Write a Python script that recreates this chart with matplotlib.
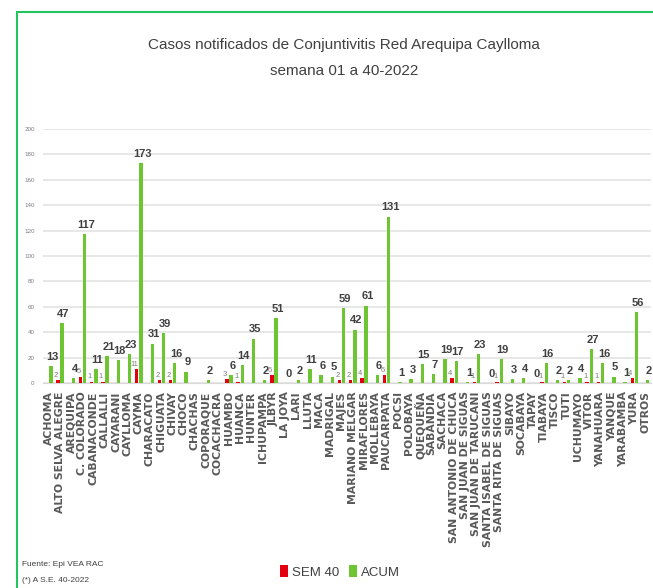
import matplotlib
matplotlib.use("Agg")
import matplotlib.pyplot as plt
import numpy as np
from matplotlib.patches import Rectangle

categories = ["ACHOMA", "ALTO SELVA ALEGRE", "AREQUIPA", "C. COLORADO", "CABANACONDE",
              "CALLALLI", "CAYARANI", "CAYLLOMA", "CAYMA", "CHARACATO", "CHIGUATA",
              "CHIVAY", "CHOCO", "CHACHAS", "COPORAQUE", "COCACHACRA", "HUAMBO", "HUANCA",
              "HUNTER", "ICHUPAMPA", "JLBYR", "LA JOYA", "LARI", "LLUTA", "MACA",
              "MADRIGAL", "MAJES", "MARIANO MELGAR", "MIRAFLORES", "MOLLEBAYA",
              "PAUCARPATA", "POCSI", "POLOBAYA", "QUEQUEÑA", "SABANDIA", "SACHACA",
              "SAN ANTONIO DE CHUCA", "SAN JUAN DE SIGUAS", "SAN JUAN DE TARUCANI",
              "SANTA ISABEL DE SIGUAS", "SANTA RITA DE SIGUAS", "SIBAYO", "SOCABAYA",
              "TAPAY", "TIABAYA", "TISCO", "TUTI", "UCHUMAYO", "VITOR", "YANAHUARA",
              "YANQUE", "YARABAMBA", "YURA", "OTROS"]

sem40 = [None, 2, None, 5, 1, 1, None, None, 11, None, 2, 2, None, None, None, None,
         3, 1, None, None, 6, None, None, None, None, None, 2, 2, 4, None, 6, None,
         None, None, None, None, 4, None, 1, None, 1, None, None, None, 1, None, 1,
         None, 1, 1, None, None, 4, None]

acum = [13, 47, 4, 117, 11, 21, 18, 23, 173, 31, 39, 16, 9, None, 2, None, 6, 14, 35,
        2, 51, 0, 2, 11, 6, 5, 59, 42, 61, 6, 131, 1, 3, 15, 7, 19, 17, 1, 23, 0, 19,
        3, 4, 0, 16, 2, 2, 4, 27, 16, 5, 1, 56, 2]

yticks = list(range(0, 201, 20))

W, H = 653, 588
fig = plt.figure(figsize=(W / 100, H / 100), dpi=100)
narrow = ["Liberation Sans Narrow", "Liberation Sans", "DejaVu Sans"]

ax = fig.add_axes([43 / W, 1 - 383 / H, (651 - 43) / W, (383 - 129) / H])
n = len(categories)
x = np.arange(n)
bw = 0.3
red = "#E3000F"
green = "#6CC531"

sem_vals = [v if v is not None else 0 for v in sem40]
acum_vals = [v if v is not None else 0 for v in acum]
b1 = ax.bar(x - 0.17, sem_vals, width=bw, color=red, label="SEM 40", zorder=3)
b2 = ax.bar(x + 0.2, acum_vals, width=bw, color=green, label="ACUM", zorder=3)

for i in range(n):
    if sem40[i] is not None:
        ax.annotate(str(sem40[i]), (x[i] - 0.22, sem40[i]), xytext=(-1, 1),
                    textcoords="offset points", ha="center", va="bottom",
                    fontsize=5.5, color="#7F7F7F", family=narrow)
    if acum[i] is not None:
        ax.annotate(str(acum[i]), (x[i] + 0.2, acum[i]), xytext=(1, 3),
                    textcoords="offset points", ha="center", va="bottom",
                    fontsize=8, fontweight="bold", color="#404040", family=narrow)

ax.set_xlim(-0.5, n - 0.5)
ax.set_ylim(0, 200)
ax.set_yticks(yticks)
ax.set_yticklabels([str(t) for t in yticks], fontsize=4.5, color="#7F7F7F", family=narrow)
ax.yaxis.grid(True, color="#E3E3E3", linewidth=1.2, zorder=0)
ax.set_axisbelow(True)
ax.tick_params(axis="both", length=0, pad=6)
for s in ["top", "right", "left"]:
    ax.spines[s].set_visible(False)
ax.spines["bottom"].set_color("#D9D9D9")
ax.set_xticks(x)
ax.set_xticklabels(categories, rotation=90, fontsize=7.8, fontweight="bold",
                   color="#595959", family="DejaVu Sans")
ax.tick_params(axis="x", pad=6)

fig.text(0.527, 1 - 45 / H, "Casos notificados de Conjuntivitis Red Arequipa Caylloma",
         ha="center", va="center", fontsize=11, color="#404040", family=narrow)
fig.text(0.527, 1 - 71 / H, "semana 01 a 40-2022",
         ha="center", va="center", fontsize=11, color="#404040", family=narrow)

fig.legend(handles=[b1, b2], labels=["SEM 40", "ACUM"], loc="center",
           bbox_to_anchor=(340 / W, 1 - 572 / H), ncol=2, frameon=False,
           handlelength=0.55, handleheight=1.0, handletextpad=0.3, columnspacing=0.8,
           prop={"family": narrow, "size": 9.5}, labelcolor="#404040")

fig.text(22 / W, 1 - 565 / H, "Fuente: Epi VEA RAC", ha="left", va="center",
         fontsize=6, color="#404040", family=narrow)
fig.text(22 / W, 1 - 581 / H, "(*) A S.E. 40-2022", ha="left", va="center",
         fontsize=6, color="#404040", family=narrow)

fig.add_artist(Rectangle((17 / W, -0.1), 1.2, 1 - 12 / H + 0.1, transform=fig.transFigure,
                         fill=False, edgecolor="#22C55E", linewidth=1.5))

fig.savefig("out.png", dpi=100)
